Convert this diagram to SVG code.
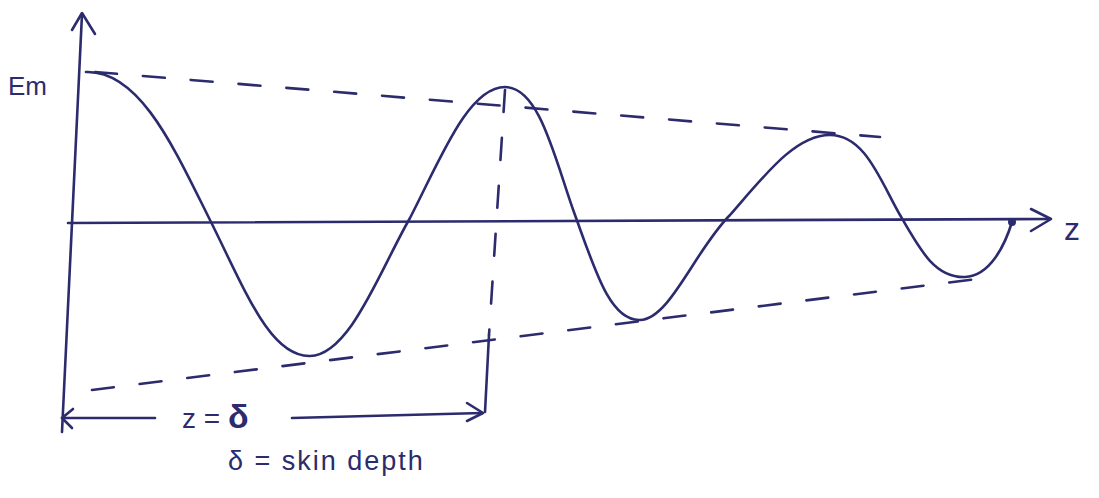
<svg xmlns="http://www.w3.org/2000/svg" width="1099" height="498" viewBox="0 0 1099 498">
<style>
.ink{fill:none;stroke:#2b2b6e;stroke-width:2.6;stroke-linecap:round;stroke-linejoin:round}
.dash{stroke-dasharray:22 26}
.lbl{fill:#2b2b6e;font-family:"Liberation Sans",Arial,sans-serif}
</style>
<rect width="1099" height="498" fill="#ffffff"/>
<g id="axes">
<path class="ink" d="M62,432 L82,14"/>
<path class="ink" d="M72,30 L82,13 L95,34"/>
<path class="ink" d="M68,223 L1050,219"/>
<path class="ink" d="M1031,209 L1051,219 L1031,231"/>
</g>
<g id="wave">
<path class="ink" d="M86,72 C140,70 175,150 210,220 C245,290 270,357 310,356 C350,355 380,270 410,218 C440,160 468,87 505,87 C540,87 555,160 575,215 C595,270 610,321 640,320 C670,319 695,250 730,215 C765,175 795,135 830,135 C865,135 880,180 900,215 C920,250 935,278 965,277 C990,276 1005,245 1012,222"/>
<circle cx="1012" cy="222" r="4" fill="#2b2b6e"/>
</g>
<g id="connectors">
<path class="ink dash" d="M95,72 L880,137"/>
<path class="ink dash" d="M92,390 L985,278"/>
<path class="ink dash" d="M505,90 L489,335"/>
<path class="ink" d="M489,335 L485,412"/>
<path class="ink" d="M62,418 L155,418"/>
<path class="ink" d="M73,409 L62,418 L72,428"/>
<path class="ink" d="M292,418 L482,413"/>
<path class="ink" d="M467,403 L483,413 L467,421"/>
</g>
<g id="labels">
<text class="lbl" x="8" y="95" font-size="26">Em</text>
<text class="lbl" x="1064" y="240" font-size="32">z</text>
<text class="lbl" x="182" y="428" font-size="28">z = <tspan font-weight="bold" font-size="34">δ</tspan></text>
<text class="lbl" x="228" y="470" font-size="27" letter-spacing="2">δ = skin depth</text>
</g>
</svg>
